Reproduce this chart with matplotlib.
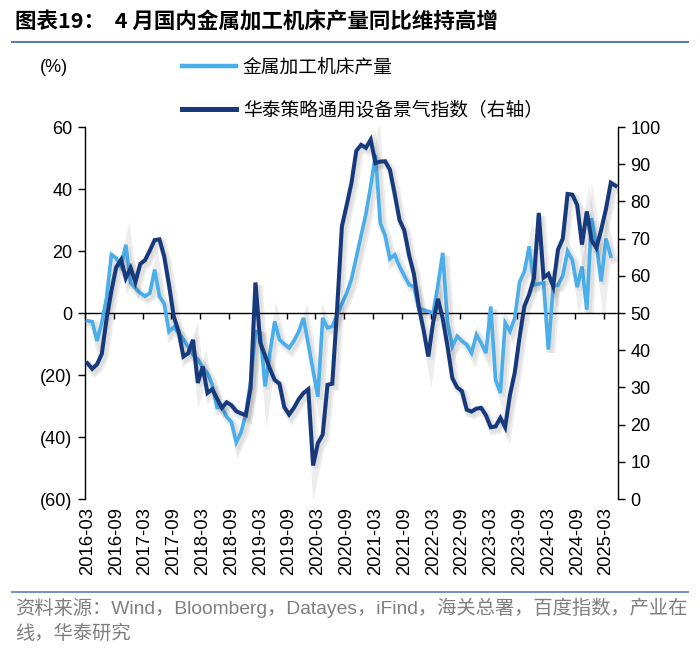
import matplotlib
matplotlib.use('Agg')
import matplotlib.pyplot as plt
import matplotlib.patheffects as pe
from matplotlib.lines import Line2D
import numpy as np
import pandas as pd

plt.rcParams['font.family'] = ['Liberation Sans', 'Noto Sans CJK SC', 'DejaVu Sans']

# ---------------- data ----------------
months = pd.period_range('2016-03', '2025-05', freq='M').strftime('%Y-%m').tolist()

# 金属加工机床产量 同比 (%), left axis, 2016-03 .. 2025-04
machine_tool_yoy = [
    -2.5, -2.8, -9.0, -3.0, 5.0, 18.8, 17.7, 15.0, 22.0, 9.7,
    8.0, 6.5, 5.4, 6.4, 14.0, 5.4, 3.0, -6.0, -4.5, -6.5,
    -8.5, -11.0, -13.5, -15.0, -17.5, -19.5, -23.0, -30.5, -30.5, -33.5,
    -35.2, -41.7, -38.5, -32.5, -22.0, -6.0, -6.5, -23.7, -13.0, -2.7,
    -8.6, -10.0, -11.3, -9.0, -6.0, -1.6, -10.0, -18.5, -27.0, -1.6,
    -4.8, -4.3, -0.5, 3.0, 6.4, 11.0, 18.0, 25.0, 32.0, 41.0,
    51.0, 29.0, 25.0, 17.5, 18.8, 15.0, 12.0, 9.1, 8.5, 1.6,
    1.0, 0.5, 0.0, 9.0, 19.4, -3.0, -10.8, -7.5, -9.0, -10.2,
    -12.9, -7.0, -9.7, -12.9, 2.1, -21.5, -25.8, -3.2, -5.9, -1.6,
    10.0, 13.4, 21.5, 9.1, 9.4, 9.7, -11.8, 8.6, 9.0, 12.0,
    19.9, 17.0, 8.3, 15.0, 1.1, 30.6, 22.0, 10.2, 24.0, 18.3,
]

# 华泰策略通用设备景气指数, right axis, 2016-03 .. 2025-05
equipment_index = [
    36.5, 35.0, 36.2, 39.0, 48.5, 56.0, 62.3, 64.3, 59.4, 62.1,
    58.3, 63.2, 64.2, 66.8, 69.6, 69.8, 65.2, 57.5, 49.0, 45.0,
    38.3, 39.2, 42.8, 31.2, 35.6, 28.5, 29.5, 27.0, 24.5, 26.0,
    25.2, 23.6, 23.0, 22.5, 30.0, 58.2, 42.0, 38.5, 35.0, 32.0,
    31.0, 24.7, 22.7, 24.5, 26.8, 28.5, 29.5, 9.0, 15.0, 17.3,
    30.7, 31.0, 51.0, 73.3, 79.0, 85.0, 93.6, 95.2, 94.4, 96.6,
    90.3, 90.7, 90.8, 88.5, 82.0, 75.0, 72.2, 65.5, 60.5, 51.8,
    45.5, 38.3, 47.5, 53.8, 48.5, 41.0, 32.5, 30.0, 29.0, 24.0,
    23.5, 24.3, 24.5, 22.5, 19.3, 19.5, 21.8, 19.3, 28.0, 34.0,
    43.5, 51.8, 55.0, 59.4, 76.9, 59.5, 60.5, 57.2, 67.0, 70.0,
    82.0, 81.8, 79.0, 68.4, 77.3, 69.5, 67.5, 72.4, 78.0, 85.0,
    84.2,
]

left_ticks = [60, 40, 20, 0, -20, -40, -60]
left_tick_labels = ['60', '40', '20', '0', '(20)', '(40)', '(60)']
right_ticks = [0, 10, 20, 30, 40, 50, 60, 70, 80, 90, 100]

series1_name = '金属加工机床产量'
series2_name = '华泰策略通用设备景气指数（右轴）'
title = '图表19：  4 月国内金属加工机床产量同比维持高增'
source1 = '资料来源：Wind，Bloomberg，Datayes，iFind，海关总署，百度指数，产业在'
source2 = '线，华泰研究'

light = '#4aaeea'
dark = '#173a7c'
rule_color = '#5a7db3'

# ---------------- figure ----------------
W, H = 700, 657
fig = plt.figure(figsize=(W / 100, H / 100), dpi=100)
ax = fig.add_axes([85 / W, 158 / H, 533 / W, 372 / H])
ax2 = ax.twinx()

x1 = np.arange(len(machine_tool_yoy))
x2 = np.arange(len(equipment_index))

shadow = [pe.SimpleLineShadow(offset=(1.8, -2.2), shadow_color='black', alpha=0.07, linewidth=6.5),
          pe.SimpleLineShadow(offset=(1.8, -2.2), shadow_color='black', alpha=0.06, linewidth=3.5),
          pe.Normal()]

ax.plot(x1, machine_tool_yoy, color=light, lw=2.6, solid_joinstyle='miter', path_effects=shadow, zorder=3)
ax2.plot(x2, equipment_index, color=dark, lw=2.9, solid_joinstyle='miter', path_effects=shadow, zorder=3)

n = len(months)
ax.set_xlim(-0.5, n - 0.5)
ax.set_ylim(-60, 60)
ax2.set_ylim(0, 100)

# spines
for s in ['top', 'right']:
    ax.spines[s].set_visible(False)
for s in ['top', 'left', 'bottom']:
    ax2.spines[s].set_visible(False)
ax.spines['bottom'].set_position(('data', 0))
ax.spines['bottom'].set_linewidth(1.0)
ax.spines['left'].set_linewidth(1.0)
ax2.spines['right'].set_linewidth(1.0)

# y ticks
ax.set_yticks(left_ticks)
ax.set_yticklabels(left_tick_labels)
ax.tick_params(axis='y', direction='out', length=5, width=1, labelsize=13, pad=4)
ax2.set_yticks(right_ticks)
ax2.tick_params(axis='y', direction='out', length=5, width=1, labelsize=13, pad=4)

# x tick marks at category boundaries on the zero line
boundaries = np.arange(-0.5, n, 6)
ax.set_xticks(boundaries)
ax.set_xticklabels([])
ax.tick_params(axis='x', direction='out', length=4, width=1)

# x labels at bottom every 6 months
lab_idx = list(range(0, n, 6))
secax = ax.secondary_xaxis(0.0)
secax.set_xticks(lab_idx)
secax.set_xticklabels([months[i] for i in lab_idx], rotation=90)
secax.tick_params(axis='x', length=0, labelsize=13.3, pad=6)
secax.spines['bottom'].set_visible(False)

# legend
handles = [Line2D([], [], color=light, lw=3.2), Line2D([], [], color=dark, lw=3.6)]
fig.legend(handles, [series1_name, series2_name], loc='upper left',
           bbox_to_anchor=(182 / W, 1 - 57 / H), frameon=False,
           prop={'family': ['Noto Sans CJK SC'], 'size': 13.5},
           handlelength=2.9, handletextpad=0.35, labelspacing=1.15,
           borderpad=0, borderaxespad=0)

# texts
fig.text(15 / W, 1 - 22 / H, title, fontsize=15.5, weight='bold',
         family=['Noto Sans CJK SC'], va='center', ha='left')
fig.add_artist(Line2D([12 / W, 688 / W], [1 - 42 / H, 1 - 42 / H], color=rule_color, lw=1.5))
fig.text(40 / W, 1 - 68 / H, '(%)', fontsize=13, va='center', ha='left')
fig.add_artist(Line2D([12 / W, 688 / W], [1 - 592 / H, 1 - 592 / H], color=rule_color, lw=1.2))
fig.text(15 / W, 1 - 608 / H, source1, fontsize=13.9, color='#7f7f7f', va='center', ha='left')
fig.text(15 / W, 1 - 634 / H, source2, fontsize=13.9, color='#7f7f7f', va='center', ha='left')

fig.savefig('out.png', dpi=100, facecolor='white')
